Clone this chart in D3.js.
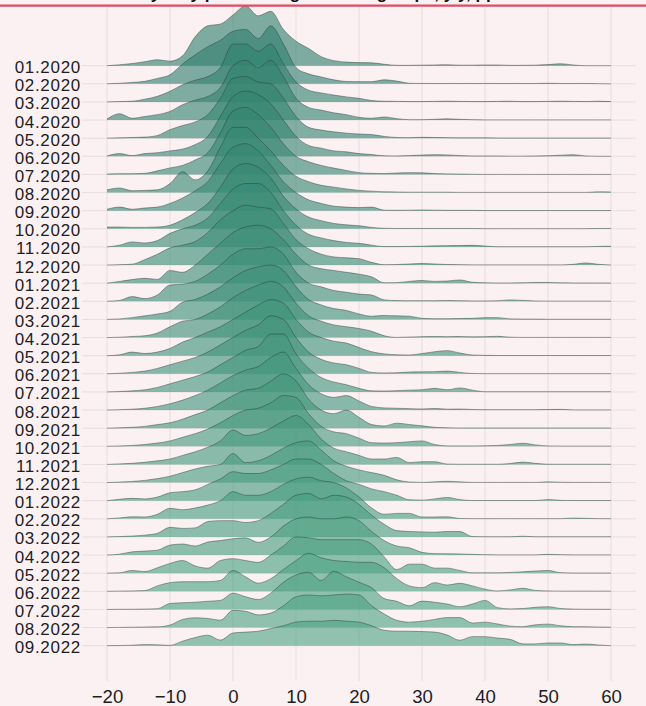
<!DOCTYPE html>
<html>
<head>
<meta charset="utf-8">
<script src="https://cdn.jsdelivr.net/npm/d3@7"></script>
<style>
  body { margin: 0; background: #fbf1f3; }
  svg { display: block; }
  text { font-family: "Liberation Sans", Arial, sans-serif; }
</style>
</head>
<body>
<script>
// months shown on the y axis, top to bottom
const months = [
  "01.2020","02.2020","03.2020","04.2020","05.2020","06.2020",
  "07.2020","08.2020","09.2020","10.2020","11.2020","12.2020",
  "01.2021","02.2021","03.2021","04.2021","05.2021","06.2021",
  "07.2021","08.2021","09.2021","10.2021","11.2021","12.2021",
  "01.2022","02.2022","03.2022","04.2022","05.2022","06.2022",
  "07.2022","08.2022","09.2022"
]
const xTicks = [-20, -10, 0, 10, 20, 30, 40, 50, 60]
// density is read at -20, -18, ... 60
const xGrid = d3.range(-20, 61, 2)

// ridge heights (1 = one row of spacing)
const dens2020 = [
  [0,.05,.12,.22,.33,.25,.55,1.6,2.2,2.3, 2.8,3.3,2.75,3.0,2.0,1.35,.95,.5,.28,.2, .17,.16,.08,.02,.02,.03,.04,.05,.03,.03, .04,.04,.02,.02,.03,.06,.11,.04,0,0,0],
  [0,.03,.08,.14,.3,.5,1.1,1.6,2.05,2.4, 2.9,3.0,2.5,3.2,2.2,.9,.55,.38,.22,.13, .12,.12,.22,.15,.03,.02,.02,.02,.02,.02, .02,.02,.02,.02,.02,.03,.02,.02,.02,.01,0],
  [0,.02,.04,.15,.31,.59,.95,1.2,1.4,1.9, 3.2,3.2,2.8,3.2,2.1,1.1,.65,.5,.38,.28, .2,.08,.04,.03,.02,.02,.03,.04,.03,.02, .02,.03,.04,.02,.02,.03,.04,.03,.02,.04,.02],
  [.06,.35,.1,.2,.3,.48,.85,1.1,1.3,1.8, 3.0,3.3,2.9,3.3,2.4,1.2,.7,.55,.4,.3, .15,.1,.17,.08,.02,.02,.04,.07,.04,.02, .01,.01,.01,.01,.01,.01,.01,.01,.01,.01,.01],
  [0,.02,.04,.06,.15,.47,.7,.9,1.3,2.2, 3.3,3.4,3.1,3.0,2.2,1.2,.6,.45,.35,.28, .23,.2,.1,.04,.03,.05,.04,.03,.02,.02, .02,.01,.01,.01,.01,.01,.01,.01,.01,.01,.01],
  [.02,.15,.04,.15,.2,.3,.4,.65,1.1,2.2, 3.3,3.6,3.4,2.9,2.0,1.1,.6,.45,.3,.25, .15,.1,.03,.02,.04,.07,.09,.08,.04,.02, .02,.02,.01,.01,.02,.03,.06,.09,.02,0,0],
  [.02,.04,.04,.06,.2,.36,.5,.8,1.2,2.3, 3.5,3.7,3.3,2.6,1.7,1.0,.7,.5,.35,.22, .1,.06,.05,.08,.1,.09,.05,.03,.02,.01, 0,0,0,0,0,0,0,0,0,0,0],
  [.15,.25,.1,.12,.15,.5,1.15,.7,1.2,2.5, 3.6,3.6,3.0,2.3,1.5,.9,.6,.4,.3,.2, .12,.08,.04,.03,.02,.02,.02,.02,.01,.01, .01,.01,.01,.01,.01,.01,.01,.01,.01,.04,.03],
  [.08,.2,.08,.15,.2,.4,.7,1.1,1.6,2.6, 3.5,3.7,3.3,2.5,1.6,1.0,.6,.4,.25,.2, .17,.2,.03,.02,.03,.04,.03,.02,.02,.02, .01,.01,.01,.01,.01,.01,.01,.01,.01,.01,.01],
  [.1,.1,.08,.08,.1,.2,.5,.9,1.4,2.3, 3.3,3.6,3.4,2.8,1.8,1.1,.65,.45,.3,.22, .17,.08,.03,.02,.02,.02,.02,.02,.02,.02, .01,.01,.01,.01,.01,.01,.01,.01,.01,.02,.02],
  [0,.1,.28,.22,.35,.75,1.0,1.2,1.6,2.4, 3.2,3.5,3.5,3.0,2.0,1.2,.7,.5,.35,.25, .2,.1,.02,.02,.03,.04,.06,.07,.08,.09, .05,.01,.01,.01,.01,.01,.01,.01,.01,.03,.04],
  [0,.02,.05,.3,.6,.95,1.1,1.3,1.8,2.5, 3.0,3.3,3.2,3.1,2.3,1.4,.9,.6,.45,.4, .35,.15,.02,.03,.06,.09,.06,.03,.02,.01, .01,.01,.01,.01,.01,.01,.01,.04,.12,.04,0]
]
const dens2021 = [
  [0,.1,.2,.27,.21,.7,.6,1.0,1.6,2.2, 2.8,3.1,3.2,3.0,2.4,1.6,1.0,.8,.7,.6, .5,.35,.02,.03,.1,.15,.1,.12,.18,.05, .02,.01,.01,.02,.04,.04,.02,.01,.01,.01,.01],
  [0,.05,.26,.15,.35,.9,.95,1.1,1.5,2.0, 2.6,2.9,2.9,3.0,2.6,1.6,1.0,.8,.6,.5, .4,.35,.08,.04,.03,.03,.03,.04,.03,.02, .02,.03,.08,.05,.02,.01,.01,.01,.01,.01,.01],
  [0,.03,.1,.2,.3,.45,.95,1.1,1.4,1.8, 2.3,2.7,2.9,3.0,2.7,1.8,1.1,.8,.6,.5, .3,.18,.22,.2,.18,.06,.04,.04,.05,.06, .1,.1,.03,.02,.02,.01,.01,.01,.01,.01,.01],
  [0,.02,.06,.1,.25,.6,.9,1.0,1.3,1.7, 2.2,2.6,2.9,3.1,2.8,1.9,1.2,.9,.7,.6, .5,.35,.1,.01,.03,.05,.06,.05,.06,.04, .05,.07,.02,.01,.01,.01,.01,.01,.01,.01,.01],
  [0,.05,.2,.12,.2,.4,.75,1.0,1.3,1.6, 2.0,2.4,2.8,3.1,2.9,2.0,1.3,1.0,.8,.7, .45,.22,.1,.05,.04,.12,.22,.28,.15,.04, .02,.01,.01,.01,.01,.01,.01,.01,.01,.01,.01],
  [0,.03,.08,.15,.3,.5,.7,.9,1.2,1.6, 2.0,2.4,2.7,3.2,3.0,2.0,1.2,.8,.6,.5, .3,.08,.05,.06,.1,.11,.12,.15,.08,.02, .01,.01,.01,.01,.01,.01,.01,.01,.01,.01,.01],
  [0,.02,.06,.12,.25,.45,.65,.85,1.1,1.5, 1.9,2.3,2.5,3.2,3.2,2.1,1.3,.8,.55,.4, .2,.06,.05,.07,.1,.12,.2,.12,.22,.1, .01,.01,.01,.01,.01,.01,.01,.01,.01,.01,.01],
  [0,.02,.05,.1,.2,.35,.55,.8,1.1,1.5, 1.9,2.2,2.4,2.9,3.2,2.3,1.4,.9,.7,.8, .5,.2,.12,.1,.08,.06,.09,.05,.06,.03, .02,.02,.02,.02,.02,.03,.04,.01,.01,.01,.01],
  [0,.02,.05,.1,.2,.3,.5,.75,1.0,1.4, 1.8,2.1,2.2,2.6,3.0,2.6,1.6,1.0,.8,1.0, .6,.2,.12,.28,.2,.13,.05,.02,.01,.01, .01,.01,.01,.01,.01,.01,.01,.01,.01,.01,.01],
  [0,.02,.05,.1,.18,.3,.5,.7,.95,1.3, 1.7,2.0,2.1,2.4,2.8,2.7,1.8,1.1,.8,.7, .45,.2,.18,.2,.25,.3,.1,.02,.02,.02, .03,.05,.1,.17,.08,.02,.01,.01,.01,.01,.01],
  [0,.03,.06,.12,.2,.3,.5,.7,.95,1.3, 1.9,1.6,1.7,2.0,2.4,2.7,2.2,1.4,.9,.7, .5,.3,.3,.39,.1,.15,.15,.02,.01,.01, .01,.01,.05,.13,.06,.01,.01,.01,.01,.01,.01],
  [0,.03,.06,.12,.22,.35,.55,.75,.9,1.0, 1.6,1.1,1.2,1.5,1.9,2.2,2.3,1.8,1.2,.9, .7,.55,.4,.15,.03,.01,.04,.07,.04,.01, .01,.01,.01,.01,.01,.04,.02,.01,.01,.01,.01]
]
const dens2022 = [
  [0,.08,.13,.1,.2,.44,.5,.6,.9,1.2, 1.6,1.5,1.5,1.7,2.0,2.3,2.3,2.0,1.5,1.1, .9,.65,.5,.3,.05,.03,.1,.18,.06,.01, .01,.01,.01,.01,.01,.06,.02,.01,.01,.01,.01],
  [0,.05,.11,.1,.25,.58,.5,.6,.76,1.0, 1.5,1.3,1.3,1.5,1.9,2.2,2.3,2.1,2.0,1.7, 1.2,.6,.25,.3,.3,.1,.1,.11,.02,.01, .01,.01,.01,.01,.01,.01,.01,.04,.03,.01,.01],
  [0,.02,.05,.1,.2,.53,.47,.5,.85,.9, .9,.8,.9,1.3,1.8,2.3,2.4,2.1,2.3,2.2, 1.8,1.2,.7,.35,.3,.28,.26,.3,.3,.02, .01,.01,.01,.04,.01,.01,.01,.01,.01,.01,.01],
  [0,.05,.18,.22,.27,.55,.61,.5,.72,.8, .9,.95,.7,1.0,1.6,2.0,2.1,2.0,2.0,2.1, 1.9,1.3,.8,.5,.4,.15,.08,.07,.06,.04, .02,.01,.01,.01,.01,.04,.02,.01,.01,.01,.01],
  [0,.02,.15,.09,.3,.54,.7,.4,.28,.7, .8,.7,.6,1.0,1.5,2.0,1.95,1.85,1.85,1.85, 1.85,1.6,.9,.2,.5,.5,.28,.28,.15,.02, .02,.02,.04,.08,.12,.15,.03,.01,.01,.01,.01],
  [0,.01,.02,.04,.3,.48,.53,.53,.53,.6, 1.15,.8,.45,.7,1.2,1.7,2.1,1.85,1.7,1.65, 1.6,1.6,1.3,.7,.3,.2,.48,.35,.44,.3, .12,.02,.08,.17,.05,.02,.01,.01,.01,.01,.01],
  [0,.01,.01,.02,.04,.33,.37,.4,.45,.5, .9,.7,.55,.9,1.5,1.9,2.05,1.6,2.1,1.8, 1.5,1.2,.6,.45,.2,.46,.4,.3,.15,.3, .5,.1,.03,.05,.12,.15,.05,.02,.01,.01,.01],
  [0,.01,.02,.03,.04,.14,.45,.54,.5,.41, .95,.9,.7,.8,1.2,1.7,1.8,1.75,1.8,1.85, 1.8,1.2,.75,.4,.3,.35,.45,.55,.55,.25, .3,.2,.08,.05,.15,.19,.1,.05,.05,.03,.02],
  [0,.01,.03,.06,.05,.02,.25,.45,.58,.31, .7,.75,.8,.95,1.1,1.3,1.35,1.35,1.4,1.35, 1.3,1.1,.85,.8,.8,.78,.75,.59,.3,.5, .5,.42,.35,.1,.1,.15,.15,.06,.09,.04,0]
]
const densities = dens2020.concat(dens2021, dens2022)

const w = 646
const h = 706

const svg = d3.select("body")
  .append("svg")
  .attr("width", w)
  .attr("height", h)

svg.append("rect")
  .attr("width", w)
  .attr("height", h)
  .attr("fill", "#fbf1f3")

const x = d3.scaleLinear()
  .domain([-20, 60])
  .range([107, 611])

const y = d3.scalePoint()
  .domain(months)
  .range([65.7, 645.7])

// ridge height in row units -> pixels
const hScale = d3.scaleLinear()
  .domain([0, 1])
  .range([0, y.step()])

const color = d3.scaleLinear()
  .domain([0, months.length - 1])
  .range(["#2f7f6c", "#4da484"])

const gridColor = "#e7dde0"

// vertical grid
svg.append("g")
  .selectAll("line")
  .data(xTicks)
  .enter()
  .append("line")
  .attr("x1", d => x(d))
  .attr("x2", d => x(d))
  .attr("y1", 7)
  .attr("y2", 681)
  .attr("stroke", gridColor)
  .attr("stroke-width", 1)

// horizontal grid, one per month
svg.append("g")
  .selectAll("line")
  .data(months)
  .enter()
  .append("line")
  .attr("x1", 82)
  .attr("x2", 636)
  .attr("y1", d => y(d))
  .attr("y2", d => y(d))
  .attr("stroke", gridColor)
  .attr("stroke-width", 1)

// ridges, top row first so later months sit in front
const ridges = svg.append("g")

months.forEach((m, i) => {
  const base = y(m)
  const pts = xGrid.map((v, k) => ({ v: v, d: densities[i][k] }))

  const area = d3.area()
    .x(d => x(d.v))
    .y0(base)
    .y1(d => base - hScale(d.d))
    .curve(d3.curveMonotoneX)

  const line = d3.line()
    .x(d => x(d.v))
    .y(d => base - hScale(d.d))
    .curve(d3.curveMonotoneX)

  ridges.append("path")
    .datum(pts)
    .attr("d", area)
    .attr("fill", color(i))
    .attr("fill-opacity", 0.62)

  ridges.append("path")
    .datum(pts)
    .attr("d", line)
    .attr("fill", "none")
    .attr("stroke", "#2b3b37")
    .attr("stroke-opacity", 0.75)
    .attr("stroke-width", 0.6)
})

// axes
const xAxis = svg.append("g")
  .attr("transform", "translate(0,681)")
  .call(d3.axisBottom(x).tickValues(xTicks).tickSize(0).tickPadding(9))
xAxis.select(".domain").remove()
xAxis.selectAll("text")
  .attr("font-size", "18.6px")
  .attr("fill", "#1e1e1e")
  .style("font-family", "'Liberation Sans', Arial, sans-serif")

const yAxis = svg.append("g")
  .attr("transform", "translate(83,1.5)")
  .call(d3.axisLeft(y).tickSize(0).tickPadding(2))
yAxis.select(".domain").remove()
yAxis.selectAll("text")
  .attr("font-size", "17px")
  .attr("letter-spacing", "0.7px")
  .attr("fill", "#1e1e1e")
  .style("font-family", "'Liberation Sans', Arial, sans-serif")

// title, mostly cut off at the top edge
svg.append("text")
  .attr("x", 30)
  .attr("y", -1)
  .attr("font-size", "17px")
  .attr("font-weight", "bold")
  .attr("fill", "#111")
  .text("Distribution of yearly price changes in CPI groups, y/y, pp")

svg.append("line")
  .attr("x1", 0)
  .attr("x2", w)
  .attr("y1", 5.7)
  .attr("y2", 5.7)
  .attr("stroke", "#df4b67")
  .attr("stroke-width", 2.2)
</script>
</body>
</html>
